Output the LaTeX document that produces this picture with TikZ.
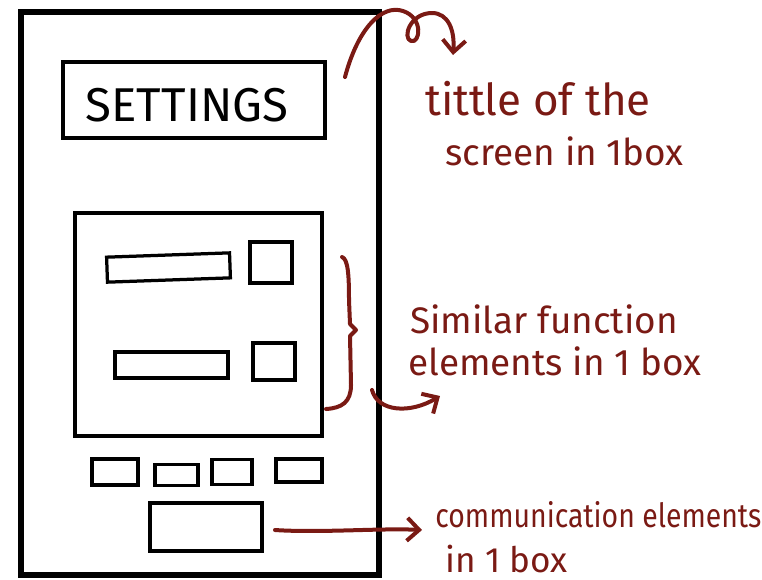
\documentclass[tikz,border=0pt]{standalone}
\usepackage{fontspec}
\newfontfamily\inkfont{Fira Sans}
\usetikzlibrary{arrows.meta}
\definecolor{ink}{RGB}{122,26,20}

\begin{document}
\begin{tikzpicture}[
    x=0.2mm, y=-0.2mm,
    >={Straight Barb[length=2.4mm, width=4.6mm]},
    phoneframe/.style={draw=black, line width=1.2mm, inner sep=0pt},
    sketchbox/.style={draw=black, line width=0.65mm, inner sep=0pt},
    inkline/.style={draw=ink, line width=0.8mm, line cap=round, line join=round},
    note/.style={text=ink, inner sep=0pt, anchor=base west},
]
\useasboundingbox (0,0) rectangle (762,579);

% ==================== PHONE SKETCH ====================
\node[phoneframe, minimum width=71.6mm, minimum height=112.6mm] (phone) at (200,293) {};

% Title bar
\node[sketchbox, line width=0.8mm, minimum width=52.4mm, minimum height=15.2mm] (title_box) at (194,100) {};
\node[inner sep=0pt, font=\inkfont\fontsize{27}{27}\selectfont] (title_text) at (187,105) {SETTINGS};

% Grouped settings rows
\node[sketchbox, line width=0.7mm, minimum width=49.4mm, minimum height=44.6mm] (group_box) at (198.5,324.5) {};
\node[sketchbox, minimum width=24.6mm, minimum height=5mm, rotate=2] (row1_bar) at (168.5,267.5) {};
\node[sketchbox, minimum width=8.4mm, minimum height=8.2mm] (row1_sq) at (271,262.5) {};
\node[sketchbox, minimum width=22.6mm, minimum height=5.2mm] (row2_bar) at (171.5,365) {};
\node[sketchbox, minimum width=8.4mm, minimum height=7.4mm] (row2_sq) at (274,361.5) {};

% Bottom row of small boxes
\node[sketchbox, minimum width=9.2mm, minimum height=5.2mm] (tab_a) at (115,472) {};
\node[sketchbox, minimum width=8.6mm, minimum height=4.2mm] (tab_b) at (176.5,475) {};
\node[sketchbox, minimum width=8mm, minimum height=5mm] (tab_c) at (232,472) {};
\node[sketchbox, minimum width=9.2mm, minimum height=4.6mm] (tab_d) at (299,470.5) {};

% Main button
\node[sketchbox, line width=0.75mm, minimum width=22.4mm, minimum height=9.6mm] (button) at (206,527) {};

% ==================== NOTES ====================
\node[note, font=\inkfont\fontsize{25}{25}\selectfont] (title_note_a) at (425,115) {tittle of the};
\node[note, font=\inkfont\fontsize{21}{21}\selectfont] (title_note_b) at (445,165) {screen in 1box};

\node[note, font=\inkfont\fontsize{21}{21}\selectfont] (group_note_a) at (410,333) {Similar function};
\node[note, font=\inkfont\fontsize{21}{21}\selectfont] (group_note_b) at (408,375) {elements in 1 box};

\node[note, font=\inkfont\fontsize{19}{19}\selectfont] (comm_note_a) at (435,527) {\scalebox{0.85}[1]{communication elements}};
\node[note, font=\inkfont\fontsize{20}{20}\selectfont] (comm_note_b) at (445,572) {in 1 box};

% Loose ends of the red strokes
\coordinate (title_start) at (345,77);
\coordinate (title_tip)   at (453,55);
\coordinate (group_start) at (372,390);
\coordinate (group_tip)   at (440,396);
\coordinate (comm_start)  at (275,530);
\coordinate (comm_tip)    at (422,530);

% Looped arrow down to the title note
\draw[inkline, ->] (title_start) .. controls (358,28) and (382,4) .. (403,11)
    .. controls (424,18) and (420,44) .. (411,41)
    .. controls (402,38) and (410,13) .. (432,13)
    .. controls (448,13) and (455,30) .. (title_tip);

% Brace next to the grouped rows
\draw[inkline] (342,257) .. controls (348,259) and (349,275) .. (349,300)
    -- (350,324) -- (356,330) -- (350,336)
    -- (351,385) .. controls (351,402) and (342,408) .. (326,409);

% Small hooked arrow under the brace
\draw[inkline, ->] (group_start) .. controls (378,412) and (410,414) .. (group_tip);

% Straight arrow from the button
\draw[inkline, ->] (comm_start) .. controls (320,533) and (380,528) .. (comm_tip);

\end{tikzpicture}
\end{document}
